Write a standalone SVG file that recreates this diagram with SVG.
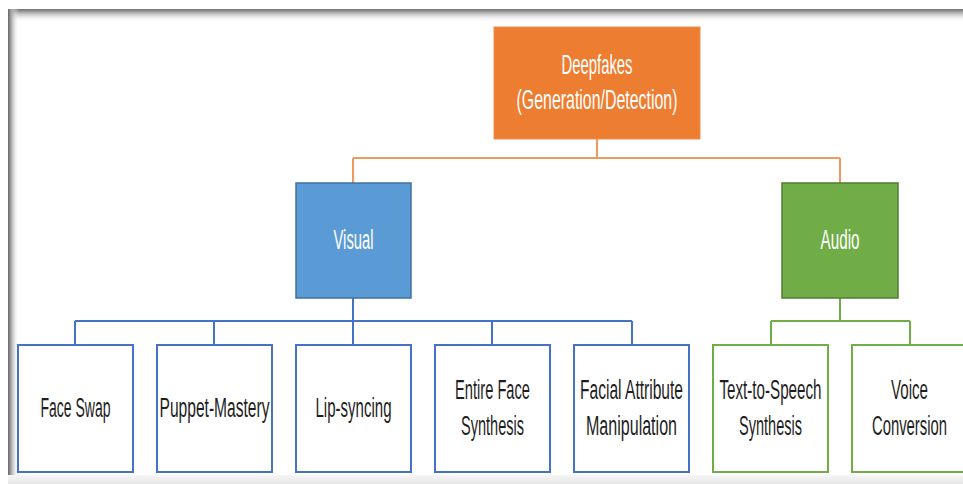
<svg xmlns="http://www.w3.org/2000/svg" width="963" height="484" viewBox="0 0 963 484">
  <defs>
    <linearGradient id="edgeTop" x1="0" y1="0" x2="0" y2="1">
      <stop offset="0" stop-color="#6e6e6e"/>
      <stop offset="0.25" stop-color="#a8a8a8"/>
      <stop offset="1" stop-color="#ffffff" stop-opacity="0"/>
    </linearGradient>
    <linearGradient id="edgeLeft" x1="0" y1="0" x2="1" y2="0">
      <stop offset="0" stop-color="#666666"/>
      <stop offset="0.25" stop-color="#a0a0a0"/>
      <stop offset="1" stop-color="#ffffff" stop-opacity="0"/>
    </linearGradient>
    <linearGradient id="edgeBottom" x1="0" y1="0" x2="0" y2="1">
      <stop offset="0" stop-color="#f6f6f6"/>
      <stop offset="1" stop-color="#e6e6e6"/>
    </linearGradient>
  </defs>
  <style>
    .lbl { font-family: "Liberation Sans", Arial, sans-serif; font-size: 27px; text-anchor: middle; }
    .dark { fill: #1e1e1e; }
    .light { fill: #ffffff; }
    .leaf-v { fill: #ffffff; stroke: #4472c4; stroke-width: 2; }
    .leaf-a { fill: #ffffff; stroke: #70ad47; stroke-width: 2; }
    .wire { fill: none; stroke-width: 2; }
    .w-o { stroke: #ef9a5c; }
    .w-b { stroke: #4472c4; }
    .w-g { stroke: #70ad47; }
  </style>

  <!-- page background and window frame -->
  <rect x="0" y="0" width="963" height="484" fill="#ffffff"/>
  <rect x="8" y="9" width="955" height="13" fill="url(#edgeTop)"/>
  <rect x="8" y="9" width="11" height="475" fill="url(#edgeLeft)"/>
  <rect x="8" y="475" width="955" height="9" fill="url(#edgeBottom)"/>

  <!-- connectors -->
  <g id="connectors">
    <path class="wire w-o" d="M597 139 V158 M353 158 H840 M353 158 V183 M840 158 V183"/>
    <path class="wire w-b" d="M353 298 V321 M75 321 H632 M75 321 V345 M214 321 V345 M353 321 V345 M492 321 V345 M632 321 V345"/>
    <path class="wire w-g" d="M840 298 V321 M771 321 H910 M771 321 V345 M910 321 V345"/>
  </g>

  <!-- root -->
  <g id="deepfakes">
    <rect x="494" y="27" width="206" height="112" fill="#ed7d31" stroke="#f09050" stroke-width="1"/>
    <text class="lbl light" x="597" y="74" textLength="71" lengthAdjust="spacingAndGlyphs">Deepfakes</text>
    <text class="lbl light" x="597" y="109" textLength="161" lengthAdjust="spacingAndGlyphs">(Generation/Detection)</text>
  </g>

  <!-- second level -->
  <g id="visual">
    <rect x="296" y="183" width="115" height="115" fill="#5b9bd5" stroke="#41719c" stroke-width="1.5"/>
    <text class="lbl light" x="353.5" y="249" textLength="40" lengthAdjust="spacingAndGlyphs">Visual</text>
  </g>
  <g id="audio">
    <rect x="782" y="183" width="116" height="115" fill="#70ad47" stroke="#507e32" stroke-width="1.5"/>
    <text class="lbl light" x="840" y="249" textLength="39" lengthAdjust="spacingAndGlyphs">Audio</text>
  </g>

  <!-- visual techniques -->
  <g id="face-swap">
    <rect class="leaf-v" x="18" y="345" width="115" height="127"/>
    <text class="lbl dark" x="75.5" y="417" textLength="70" lengthAdjust="spacingAndGlyphs">Face Swap</text>
  </g>
  <g id="puppet-mastery">
    <rect class="leaf-v" x="157" y="345" width="115" height="127"/>
    <text class="lbl dark" x="214.5" y="417" textLength="110" lengthAdjust="spacingAndGlyphs">Puppet-Mastery</text>
  </g>
  <g id="lip-syncing">
    <rect class="leaf-v" x="296" y="345" width="115" height="127"/>
    <text class="lbl dark" x="353.5" y="417" textLength="76" lengthAdjust="spacingAndGlyphs">Lip-syncing</text>
  </g>
  <g id="entire-face-synthesis">
    <rect class="leaf-v" x="435" y="345" width="115" height="127"/>
    <text class="lbl dark" x="492.5" y="399" textLength="75" lengthAdjust="spacingAndGlyphs">Entire Face</text>
    <text class="lbl dark" x="492.5" y="435" textLength="63" lengthAdjust="spacingAndGlyphs">Synthesis</text>
  </g>
  <g id="facial-attribute-manipulation">
    <rect class="leaf-v" x="574" y="345" width="115" height="127"/>
    <text class="lbl dark" x="631.5" y="399" textLength="103" lengthAdjust="spacingAndGlyphs">Facial Attribute</text>
    <text class="lbl dark" x="631.5" y="435" textLength="91" lengthAdjust="spacingAndGlyphs">Manipulation</text>
  </g>

  <!-- audio techniques -->
  <g id="text-to-speech">
    <rect class="leaf-a" x="713" y="345" width="115" height="127"/>
    <text class="lbl dark" x="770.5" y="399" textLength="102" lengthAdjust="spacingAndGlyphs">Text-to-Speech</text>
    <text class="lbl dark" x="770.5" y="435" textLength="63" lengthAdjust="spacingAndGlyphs">Synthesis</text>
  </g>
  <g id="voice-conversion">
    <rect class="leaf-a" x="852" y="345" width="115" height="127"/>
    <text class="lbl dark" x="909.5" y="399" textLength="37" lengthAdjust="spacingAndGlyphs">Voice</text>
    <text class="lbl dark" x="909.5" y="435" textLength="75" lengthAdjust="spacingAndGlyphs">Conversion</text>
  </g>
</svg>
